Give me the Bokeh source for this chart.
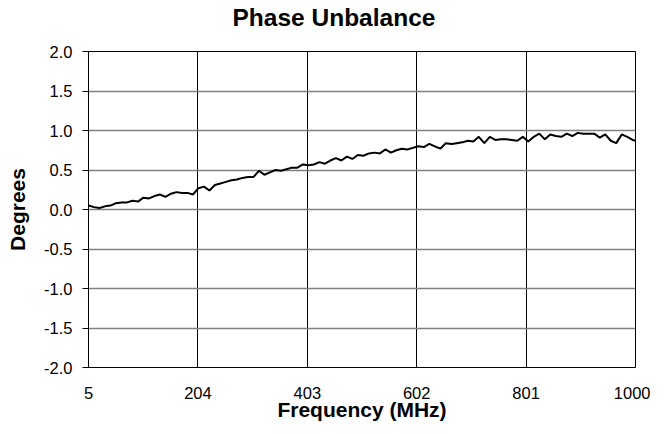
from bokeh.plotting import figure
from bokeh.models import Range1d, FixedTicker, PrintfTickFormatter, Title
from bokeh.embed import file_html
from bokeh.resources import INLINE

# ---- data ----
freq_mhz = [5, 15, 25, 35, 45, 55, 65, 75, 85, 95,
            105, 115, 125, 135, 145, 155, 165, 175, 185, 195,
            205, 215, 225, 235, 245, 255, 265, 275, 285, 295,
            305, 315, 325, 335, 345, 355, 365, 375, 385, 395,
            405, 415, 425, 435, 445, 455, 465, 475, 485, 495,
            505, 515, 525, 535, 545, 555, 565, 575, 585, 595,
            605, 615, 625, 635, 645, 655, 665, 675, 685, 695,
            705, 715, 725, 735, 745, 755, 765, 775, 785, 795,
            805, 815, 825, 835, 845, 855, 865, 875, 885, 895,
            905, 915, 925, 935, 945, 955, 965, 975, 985, 995, 1000]
phase_deg = [0.05, 0.03, 0.02, 0.04, 0.05, 0.08, 0.09, 0.09, 0.11, 0.10,
             0.15, 0.14, 0.17, 0.19, 0.16, 0.20, 0.22, 0.21, 0.21, 0.19,
             0.27, 0.29, 0.24, 0.31, 0.33, 0.35, 0.37, 0.38, 0.40, 0.41,
             0.41, 0.49, 0.44, 0.47, 0.50, 0.49, 0.51, 0.53, 0.53, 0.57,
             0.56, 0.57, 0.60, 0.58, 0.62, 0.65, 0.62, 0.67, 0.64, 0.69,
             0.68, 0.71, 0.72, 0.71, 0.76, 0.72, 0.75, 0.77, 0.76, 0.78,
             0.80, 0.79, 0.83, 0.80, 0.77, 0.84, 0.83, 0.84, 0.85, 0.87,
             0.86, 0.92, 0.84, 0.92, 0.88, 0.89, 0.89, 0.88, 0.87, 0.92,
             0.86, 0.92, 0.96, 0.89, 0.95, 0.93, 0.92, 0.96, 0.93, 0.97,
             0.96, 0.96, 0.96, 0.91, 0.95, 0.87, 0.84, 0.95, 0.92, 0.88, 0.87]
x_ticks = [5, 204, 403, 602, 801, 1000]
y_ticks = [-2.0, -1.5, -1.0, -0.5, 0.0, 0.5, 1.0, 1.5, 2.0]
title_text = "Phase Unbalance"

FONT = "Liberation Sans"

p = figure(width=650, height=424, output_backend="svg", toolbar_location=None,
           x_range=Range1d(5, 1000), y_range=Range1d(-2, 2),
           min_border_left=88, min_border_right=15, min_border_top=51, min_border_bottom=57)
p.background_fill_color = "white"
p.border_fill_color = "white"
p.outline_line_color = "black"
p.outline_line_width = 1

# main title (outermost above panel)
p.title.text = title_text
p.title.text_font = FONT
p.title.text_font_size = "24.5px"
p.title.text_font_style = "bold"
p.title.text_color = "black"
p.title.align = "left"
p.title.offset = 144
p.title.standoff = 0

# spacer panel between title and plot frame
p.add_layout(Title(text=" ", text_font_size="1px", standoff=18), "above")

p.line(freq_mhz, phase_deg, line_color="black", line_width=2)

# axes
p.xaxis.ticker = FixedTicker(ticks=x_ticks)
p.yaxis.ticker = FixedTicker(ticks=y_ticks)
p.yaxis.formatter = PrintfTickFormatter(format="%.1f")
p.xaxis.minor_tick_line_color = None
p.yaxis.minor_tick_line_color = None
p.xaxis.major_tick_out = 0
p.xaxis.major_tick_in = 0
p.xaxis.axis_line_color = None
p.yaxis.major_tick_out = 6
p.yaxis.major_tick_in = 0
p.yaxis.axis_line_color = "black"
p.yaxis.major_tick_line_color = "black"
for ax in (p.xaxis[0], p.yaxis[0]):
    ax.major_label_text_font = FONT
    ax.major_label_text_font_size = "16.5px"
    ax.major_label_text_color = "black"
    ax.axis_label_text_font = FONT
    ax.axis_label_text_font_size = "21px"
    ax.axis_label_text_font_style = "bold"
    ax.axis_label_text_color = "black"
p.xaxis.axis_label = "Frequency (MHz)"
p.yaxis.axis_label = "Degrees"
p.xaxis.major_label_standoff = 19
p.xaxis.axis_label_standoff = -4
p.yaxis.major_label_standoff = 10
p.yaxis.axis_label_standoff = 12

# grid
p.xgrid.grid_line_color = "black"
p.xgrid.grid_line_width = 1
p.ygrid.grid_line_color = "#808080"
p.ygrid.grid_line_width = 1.5

open("out.html", "w").write(file_html(p, INLINE))
